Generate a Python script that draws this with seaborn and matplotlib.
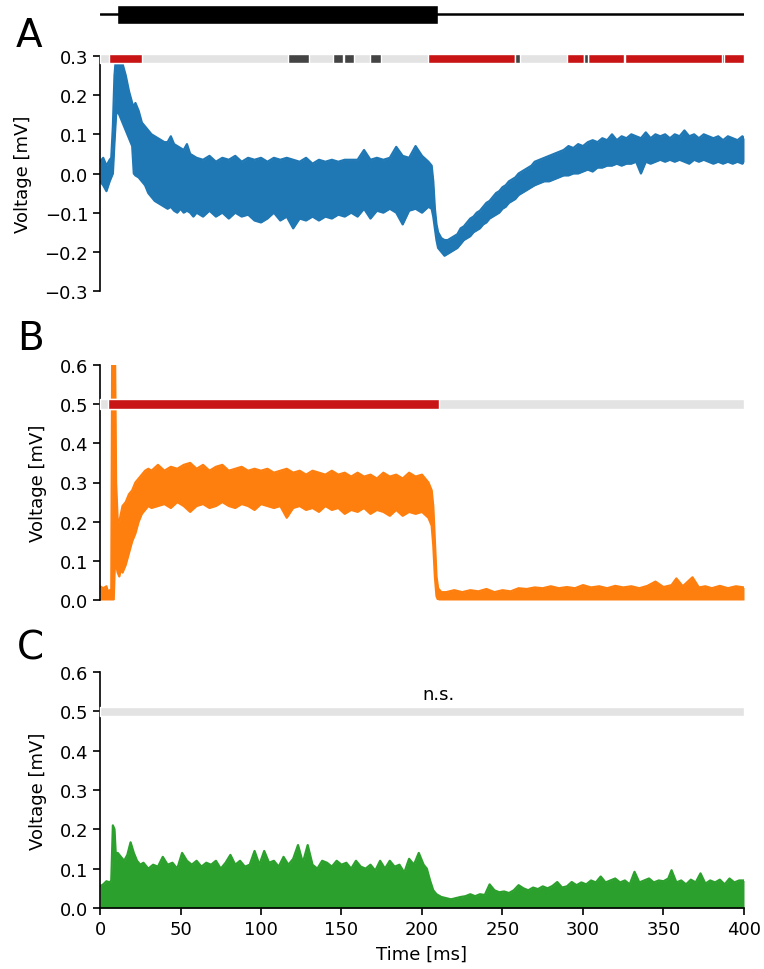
import numpy as np
import pandas as pd
import matplotlib
matplotlib.use("Agg")
import matplotlib.pyplot as plt
import seaborn as sns

sns.set_style("ticks")
plt.rcParams['font.family'] = ['DejaVu Sans']
plt.rcParams.update({
    "text.color": "black", "axes.labelcolor": "black", "axes.edgecolor": "black",
    "xtick.color": "black", "ytick.color": "black",
})

# ---------------- data ----------------
# Panel A: upper / lower envelope of the blue trace [mV]
A_TIME = [0, 2, 4, 6, 7, 8, 9, 10, 11, 12, 13, 14, 16, 18, 20, 21, 22, 24, 26, 28,
          30, 32, 34, 36, 38, 40, 42, 44, 46, 48, 50, 52, 54, 56, 58,
          60, 64, 68, 72, 76, 80, 84, 88, 92, 96, 100, 104, 108, 112, 116, 120,
          124, 128, 132, 136, 140, 144, 148, 152, 156, 160, 164, 168, 172, 176,
          180, 184, 188, 192, 196, 200, 204,
          206, 207, 208, 209, 210, 212, 214, 216, 218, 220, 222, 224, 226, 228,
          230, 232, 234, 236, 238, 240, 242, 244, 246, 248, 250, 252, 254, 256,
          258, 260, 262, 264, 266, 268, 270, 273, 276, 279, 282, 285, 288, 291,
          294, 297, 300, 303, 306, 309, 312, 315, 318, 321, 324, 327, 330, 333,
          336, 339, 342, 345, 348, 351, 354, 357, 360, 363, 366, 369, 372, 375,
          378, 381, 384, 387, 390, 393, 396, 399, 400]
A_HIGH = [0.03, 0.04, 0.02, 0.035, 0.04, 0.12, 0.25, 0.30, 0.30, 0.30, 0.29, 0.28, 0.25, 0.21, 0.18, 0.17, 0.18, 0.16, 0.13, 0.12,
          0.11, 0.10, 0.095, 0.09, 0.085, 0.08, 0.08, 0.095, 0.075, 0.07, 0.065, 0.06, 0.075, 0.05, 0.045,
          0.04, 0.035, 0.045, 0.03, 0.04, 0.035, 0.045, 0.03, 0.04, 0.035, 0.04, 0.03, 0.04, 0.035, 0.04, 0.035,
          0.03, 0.04, 0.025, 0.035, 0.03, 0.035, 0.03, 0.035, 0.035, 0.035, 0.06, 0.035, 0.04, 0.035,
          0.04, 0.068, 0.045, 0.04, 0.07, 0.045, 0.03,
          0.02, -0.02, -0.09, -0.13, -0.15, -0.165, -0.17, -0.17, -0.165, -0.16, -0.155, -0.14, -0.135, -0.125,
          -0.115, -0.11, -0.10, -0.095, -0.085, -0.075, -0.07, -0.06, -0.05, -0.045, -0.035, -0.03, -0.02, -0.015,
          -0.01, 0.0, 0.005, 0.01, 0.015, 0.02, 0.03, 0.035, 0.04, 0.045, 0.05, 0.055, 0.06, 0.07,
          0.065, 0.075, 0.07, 0.08, 0.085, 0.08, 0.09, 0.085, 0.10, 0.085, 0.095, 0.09, 0.10, 0.095,
          0.09, 0.105, 0.09, 0.10, 0.095, 0.10, 0.09, 0.10, 0.095, 0.11, 0.095, 0.10, 0.09, 0.10,
          0.095, 0.09, 0.095, 0.085, 0.095, 0.09, 0.085, 0.095, 0.09]
A_LOW = [-0.02, -0.03, -0.045, -0.02, -0.01, 0.0, 0.08, 0.15, 0.16, 0.15, 0.14, 0.13, 0.11, 0.09, 0.07, 0.0, -0.005, -0.01, -0.02, -0.03,
         -0.05, -0.06, -0.07, -0.075, -0.08, -0.085, -0.09, -0.085, -0.095, -0.10, -0.09, -0.10, -0.095, -0.10, -0.11,
         -0.10, -0.11, -0.095, -0.11, -0.10, -0.115, -0.10, -0.11, -0.105, -0.12, -0.125, -0.115, -0.10, -0.12, -0.11, -0.14,
         -0.115, -0.12, -0.11, -0.12, -0.11, -0.115, -0.105, -0.11, -0.10, -0.11, -0.09, -0.115, -0.095, -0.10,
         -0.09, -0.10, -0.13, -0.095, -0.09, -0.10, -0.085,
         -0.09, -0.11, -0.14, -0.17, -0.19, -0.20, -0.21, -0.205, -0.20, -0.195, -0.19, -0.18, -0.17, -0.165,
         -0.16, -0.15, -0.145, -0.14, -0.13, -0.125, -0.115, -0.11, -0.105, -0.10, -0.09, -0.085, -0.075, -0.07,
         -0.065, -0.055, -0.05, -0.045, -0.04, -0.035, -0.03, -0.025, -0.02, -0.02, -0.015, -0.01, -0.005, -0.005,
         0.0, 0.0, 0.005, 0.01, 0.005, 0.015, 0.015, 0.02, 0.02, 0.025, 0.02, 0.025, 0.025, 0.03,
         0.0, 0.03, 0.025, 0.03, 0.035, 0.03, 0.035, 0.03, 0.035, 0.03, 0.025, 0.035, 0.03, 0.035,
         0.03, 0.025, 0.03, 0.025, 0.03, 0.025, 0.03, 0.025, 0.03]

# Panel B: envelope of the orange trace [mV]
B_TIME = [0, 2, 4, 5, 6, 7, 7.6, 8.5, 9.3, 10, 11, 12, 13, 14, 16, 18, 20, 22, 24, 26, 28, 30,
          32, 36, 40, 44, 48, 52, 56, 60, 64, 68, 72, 76, 80, 84, 88, 92, 96, 100, 104, 108,
          112, 116, 120, 124, 128, 132, 136, 140, 144, 148, 152, 156, 160, 164, 168, 172, 176,
          180, 184, 188, 192, 196, 200, 204, 206, 207, 208, 209, 210, 212,
          215, 220, 225, 230, 235, 240, 245, 250, 255, 260, 265, 270, 275, 280, 285, 290, 295,
          300, 305, 310, 315, 320, 325, 330, 335, 340, 345, 350, 355, 358, 362, 368, 372, 376,
          380, 385, 390, 395, 400]
B_HIGH = [0.035, 0.03, 0.035, 0.02, 0.025, 0.02, 0.65, 0.65, 0.65, 0.30, 0.20, 0.20, 0.22, 0.24, 0.25, 0.27, 0.28, 0.30, 0.31, 0.32, 0.33, 0.335,
          0.33, 0.345, 0.33, 0.34, 0.335, 0.345, 0.35, 0.335, 0.345, 0.33, 0.34, 0.345, 0.33, 0.335, 0.34, 0.33, 0.335, 0.33, 0.335, 0.325,
          0.33, 0.335, 0.325, 0.33, 0.32, 0.33, 0.325, 0.32, 0.33, 0.32, 0.325, 0.315, 0.325, 0.315, 0.32, 0.31, 0.325,
          0.315, 0.32, 0.31, 0.325, 0.315, 0.32, 0.30, 0.28, 0.24, 0.15, 0.06, 0.03, 0.02,
          0.02, 0.025, 0.02, 0.025, 0.022, 0.028, 0.02, 0.025, 0.022, 0.03, 0.028, 0.032, 0.03, 0.035, 0.03, 0.033, 0.03,
          0.038, 0.032, 0.035, 0.03, 0.036, 0.032, 0.035, 0.03, 0.036, 0.047, 0.033, 0.038, 0.055, 0.035, 0.058, 0.032, 0.035,
          0.03, 0.036, 0.03, 0.035, 0.032]
B_LOW = [0.0, 0.0, 0.0, 0.0, 0.0, 0.0, 0.0, 0.0, 0.1, 0.09, 0.07, 0.06, 0.08, 0.07, 0.09, 0.12, 0.15, 0.17, 0.20, 0.22, 0.23, 0.24,
         0.235, 0.24, 0.245, 0.235, 0.25, 0.24, 0.225, 0.24, 0.245, 0.235, 0.24, 0.25, 0.24, 0.235, 0.245, 0.24, 0.23, 0.245, 0.24, 0.235,
         0.24, 0.21, 0.235, 0.24, 0.23, 0.235, 0.225, 0.24, 0.23, 0.235, 0.22, 0.23, 0.225, 0.235, 0.22, 0.23, 0.225,
         0.215, 0.23, 0.215, 0.225, 0.22, 0.225, 0.21, 0.19, 0.14, 0.06, 0.01, 0.0, 0.0,
         0.0, 0.0, 0.0, 0.0, 0.0, 0.0, 0.0, 0.0, 0.0, 0.0, 0.0, 0.0, 0.0, 0.0, 0.0, 0.0, 0.0,
         0.0, 0.0, 0.0, 0.0, 0.0, 0.0, 0.0, 0.0, 0.0, 0.0, 0.0, 0.0, 0.0, 0.0, 0.0, 0.0, 0.0,
         0.0, 0.0, 0.0, 0.0, 0.0]

# Panel C: upper envelope of the green trace [mV] (lower edge sits at 0)
C_TIME = [0, 2, 4, 6, 7, 8, 9, 10, 11, 13, 15, 17, 19, 21, 23, 25, 27, 30, 33, 36, 39, 42, 45, 48,
          51, 54, 57, 60, 63, 66, 69, 72, 75, 78, 81, 84, 87, 90, 93, 96, 99, 102, 105, 108,
          111, 114, 117, 120, 123, 126, 129, 132, 135, 138, 141, 144, 147, 150, 153, 156, 159,
          162, 165, 168, 171, 174, 177, 180, 183, 186, 189, 192, 195, 198, 201, 203, 205, 207,
          209, 212, 215, 218, 221, 224, 227, 230, 233, 236, 239, 242, 245, 248, 251, 254, 257,
          260, 263, 266, 269, 272, 275, 278, 281, 284, 287, 290, 293, 296, 299, 302, 305, 308,
          311, 314, 317, 320, 323, 326, 329, 332, 335, 338, 341, 344, 347, 350, 353, 355, 358,
          361, 364, 367, 370, 373, 376, 379, 382, 385, 388, 391, 394, 397, 400]
C_HIGH = [0.055, 0.06, 0.068, 0.065, 0.07, 0.21, 0.20, 0.12, 0.14, 0.13, 0.12, 0.135, 0.167, 0.14, 0.12, 0.11, 0.115, 0.10, 0.11, 0.105, 0.13, 0.11, 0.115, 0.10,
          0.14, 0.12, 0.11, 0.12, 0.105, 0.115, 0.11, 0.12, 0.10, 0.115, 0.135, 0.11, 0.12, 0.105, 0.11, 0.145, 0.11, 0.145, 0.115, 0.12,
          0.105, 0.13, 0.11, 0.125, 0.16, 0.115, 0.16, 0.11, 0.10, 0.12, 0.115, 0.105, 0.12, 0.11, 0.115, 0.10, 0.12,
          0.105, 0.10, 0.11, 0.095, 0.12, 0.10, 0.12, 0.105, 0.11, 0.09, 0.125, 0.11, 0.14, 0.11, 0.10, 0.07, 0.045,
          0.035, 0.028, 0.025, 0.022, 0.025, 0.028, 0.03, 0.035, 0.03, 0.035, 0.033, 0.06, 0.045, 0.04, 0.042, 0.038, 0.045,
          0.058, 0.05, 0.045, 0.052, 0.048, 0.055, 0.05, 0.056, 0.066, 0.052, 0.055, 0.066, 0.058, 0.065, 0.06, 0.07, 0.065,
          0.08, 0.065, 0.07, 0.075, 0.065, 0.07, 0.06, 0.092, 0.065, 0.07, 0.075, 0.065, 0.07, 0.068, 0.075, 0.096, 0.065,
          0.07, 0.06, 0.072, 0.065, 0.088, 0.062, 0.07, 0.065, 0.072, 0.06, 0.075, 0.065, 0.07, 0.07]

# Significance bars: (start, end) in ms
SIG_A_RED = [(5.8, 26.3), (203.5, 258.0), (290.0, 300.6), (303.0, 400.0)]
SIG_A_DARK = [(117.0, 130.0), (144.5, 151.0), (151.5, 158.0), (168.0, 174.5), (258.0, 261.0), (300.6, 303.0)]
SIG_A_EDGE = [(325.6, 326.2), (386.6, 387.3)]
SIG_B_RED = [(4.8, 210.7)]
SIG_C_RED = []
STIM_ON = (10.5, 210.0)

X_TICKS = [0, 50, 100, 150, 200, 250, 300, 350, 400]
A_YTICKS = [-0.3, -0.2, -0.1, 0.0, 0.1, 0.2, 0.3]
BC_YTICKS = [0.0, 0.1, 0.2, 0.3, 0.4, 0.5, 0.6]

BLUE, ORANGE, GREEN = "#1f77b4", "#ff7f0e", "#2ca02c"
RED, DARK, LIGHT, EDGE = "#c81414", "#444444", "#e3e3e3", "#8a5050"

FS_TICK = 13
FS_LABEL = 13
FS_LETTER = 28

# ---------------- figure ----------------
fig = plt.figure(figsize=(7.64, 9.70), dpi=100)
L = 100 / 764
W = 644 / 764


def axes_px(top, bottom):
    return fig.add_axes([L, 1 - bottom / 970, W, (bottom - top) / 970])


def trace(ax, t, hi, lo, color):
    ax.fill_between(t, lo, hi, color=color, lw=0)
    sns.lineplot(x=t, y=hi, ax=ax, color=color, lw=1.6, estimator=None, sort=False)
    sns.lineplot(x=t, y=lo, ax=ax, color=color, lw=1.6, estimator=None, sort=False)


def sig(ax, y, h, red, dark, edge=()):
    ax.broken_barh([(0, 400)], (y - h / 2, h), facecolors=LIGHT, clip_on=False, zorder=5)
    if red:
        ax.broken_barh([(a, b - a) for a, b in red], (y - h / 2, h), facecolors=RED,
                       clip_on=False, zorder=6)
    if dark:
        ax.broken_barh([(a, b - a) for a, b in dark], (y - h / 2, h), facecolors=DARK,
                       clip_on=False, zorder=7)
    if edge:
        ax.broken_barh([(a, b - a) for a, b in edge], (y - h / 2, h), facecolors=EDGE,
                       clip_on=False, zorder=7)


def style(ax, yticks, show_x):
    ax.set_xlim(0, 400)
    ax.set_ylim(yticks[0], yticks[-1])
    ax.set_yticks(yticks)
    ax.set_yticklabels([f"{v:.1f}".replace("-", "\u2212") for v in yticks])
    ax.set_ylabel("Voltage [mV]", fontsize=FS_LABEL, labelpad=9)
    ax.tick_params(axis="both", labelsize=FS_TICK, length=5, width=1.2, direction="out",
                   colors="black")
    sns.despine(ax=ax, top=True, right=True, bottom=not show_x)
    for s in ax.spines.values():
        s.set_linewidth(1.2)
        s.set_color("black")
    if show_x:
        ax.set_xticks(X_TICKS)
        ax.set_xlabel("Time [ms]", fontsize=FS_LABEL, labelpad=5)
    else:
        ax.set_xticks([])
        ax.set_xlabel("")


# stimulus bar
ax0 = axes_px(6, 25)
ax0.plot([0, 400], [0.52, 0.52], color="black", lw=1.8)
ax0.broken_barh([(STIM_ON[0], STIM_ON[1] - STIM_ON[0])], (0, 1), facecolors="black")
ax0.set_xlim(0, 400)
ax0.set_ylim(0, 1)
ax0.axis("off")

# Panel A
axA = axes_px(57, 292)
trace(axA, A_TIME, A_HIGH, A_LOW, BLUE)
style(axA, A_YTICKS, False)
sig(axA, 0.294, 0.022, SIG_A_RED, SIG_A_DARK, SIG_A_EDGE)

# Panel B
axB = axes_px(366, 601)
trace(axB, B_TIME, B_HIGH, B_LOW, ORANGE)
style(axB, BC_YTICKS, False)
sig(axB, 0.5, 0.024, SIG_B_RED, [])

# Panel C
axC = axes_px(673, 909)
trace(axC, C_TIME, C_HIGH, [0.0] * len(C_TIME), GREEN)
style(axC, BC_YTICKS, True)
sig(axC, 0.5, 0.024, SIG_C_RED, [])
axC.text(210, 0.52, "n.s.", ha="center", va="bottom", fontsize=FS_LABEL)

# panel letters
fig.text(16 / 764, 1 - 47 / 970, "A", fontsize=FS_LETTER, color="black")
fig.text(17 / 764, 1 - 350 / 970, "B", fontsize=FS_LETTER, color="black")
fig.text(17 / 764, 1 - 660 / 970, "C", fontsize=FS_LETTER, color="black")

fig.savefig("out.png", dpi=100)
